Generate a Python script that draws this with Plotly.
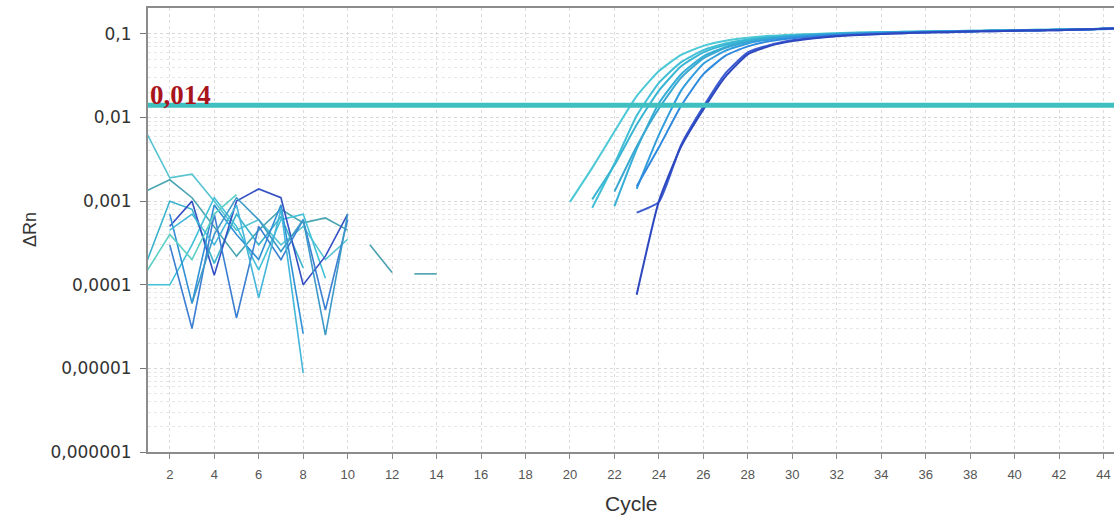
import math
import plotly.graph_objects as go

# ---- data -----------------------------------------------------------------
THRESHOLD = 0.014
THRESHOLD_LABEL = "0,014"

# background (pre-amplification) noise, cycles 1..14
noise_cycles = list(range(1, 15))
noise_1 = [0.0062, 0.0019, 0.0021, 0.001, 0.00045, 0.0006, 0.0003, 0.0005, 0.0002, 0.00035, None, None, None, None]
noise_2 = [0.00135, 0.0018, 0.0011, 0.0005, 0.00022, 0.00045, 0.0008, 0.00055, 0.00063, 0.00045, None, None, None, None]
noise_3 = [0.0002, 0.001, 0.0008, 0.00018, 0.0007, 0.0003, 0.00065, 0.00016, None, None, None, None, None, None]
noise_4 = [0.0001, 0.0001, 0.0003, 0.0011, 0.0005, 0.00015, 0.0006, 0.0007, 0.00012, None, None, None, None, None]
noise_5 = [None, 0.0005, 0.001, 0.00013, 0.001, 0.0014, 0.0011, 0.0001, 0.00022, 0.0007, None, None, None, None]
noise_6 = [None, 0.0007, 0.00006, 0.0009, 0.0004, 0.0002, 0.0009, 0.000026, None, None, None, None, None, None]
noise_7 = [None, 0.0003, 0.00003, 0.0007, 0.00004, 0.0005, 0.0002, 0.0006, 0.00005, 0.0006, None, None, None, None]
noise_8 = [0.00015, 0.0004, 0.0002, 0.0007, 0.0012, None, None, None, None, None, None, None, None, None]
noise_9 = [None, 0.00045, 0.0007, 0.0003, 0.0009, 0.00007, 0.0008, 0.0000088, None, None, None, None, None, None]
noise_10 = [None, None, 0.00006, 0.0004, 0.0011, 0.0006, 0.00025, 0.0006, 0.000025, 0.0007, None, None, None, None]
noise_11 = [None, None, None, None, None, None, None, None, None, None, 0.0003, 0.00014, None, None]
noise_12 = [None, None, None, None, None, None, None, None, None, None, None, None, 0.000135, 0.000135]

# amplification curves, cycles 20..45
amp_cycles = list(range(20, 46))
amp_a = [0.00098, 0.0025, 0.0068, 0.018, 0.036, 0.056, 0.072, 0.083, 0.09, 0.095, 0.098, 0.1, 0.102,
         0.104, 0.105, 0.106, 0.107, 0.108, 0.109, 0.11, 0.111, 0.112, 0.113, 0.114, 0.115, 0.116]
amp_b = [None, 0.00083, 0.0028, 0.0105, 0.026, 0.046, 0.064, 0.077, 0.086, 0.092, 0.096, 0.099, 0.101,
         0.103, 0.104, 0.106, 0.107, 0.108, 0.109, 0.11, 0.111, 0.112, 0.113, 0.114, 0.115, 0.116]
amp_c = [None, 0.00105, 0.0027, 0.0082, 0.021, 0.041, 0.06, 0.074, 0.084, 0.091, 0.095, 0.098, 0.1,
         0.102, 0.104, 0.105, 0.106, 0.107, 0.108, 0.109, 0.11, 0.111, 0.112, 0.114, 0.115, 0.117]
amp_d = [None, None, 0.00087, 0.0042, 0.0148, 0.033, 0.054, 0.07, 0.081, 0.089, 0.094, 0.097, 0.1,
         0.102, 0.103, 0.105, 0.106, 0.107, 0.108, 0.109, 0.11, 0.111, 0.112, 0.113, 0.115, 0.116]
amp_e = [None, None, 0.0013, 0.0045, 0.0128, 0.03, 0.051, 0.068, 0.08, 0.088, 0.093, 0.097, 0.1,
         0.102, 0.103, 0.105, 0.106, 0.107, 0.108, 0.109, 0.11, 0.111, 0.112, 0.113, 0.114, 0.116]
amp_f = [None, None, None, 0.0014, 0.0062, 0.021, 0.044, 0.063, 0.077, 0.086, 0.092, 0.096, 0.099,
         0.101, 0.103, 0.104, 0.105, 0.107, 0.108, 0.109, 0.11, 0.111, 0.112, 0.113, 0.115, 0.116]
amp_g = [None, None, None, 0.0015, 0.0044, 0.0138, 0.033, 0.055, 0.071, 0.082, 0.089, 0.094, 0.097,
         0.1, 0.102, 0.104, 0.105, 0.107, 0.108, 0.109, 0.11, 0.111, 0.112, 0.113, 0.115, 0.116]
amp_h = [None, None, None, 0.000076, 0.001, 0.0045, 0.0125, 0.031, 0.057, 0.072, 0.082, 0.089, 0.094,
         0.097, 0.1, 0.102, 0.104, 0.105, 0.107, 0.108, 0.109, 0.11, 0.111, 0.113, 0.115, 0.117]
amp_i = [None, None, None, 0.00073, 0.00098, 0.0047, 0.0135, 0.034, 0.06, 0.074, 0.084, 0.09, 0.095,
         0.098, 0.1, 0.102, 0.104, 0.105, 0.107, 0.108, 0.109, 0.11, 0.111, 0.113, 0.115, 0.117]

y_tick_values = [1e-6, 1e-5, 1e-4, 1e-3, 1e-2, 1e-1]
y_tick_labels = ["0,000001", "0,00001", "0,0001", "0,001", "0,01", "0,1"]
x_tick_values = list(range(2, 46, 2))

# ---- figure ---------------------------------------------------------------
fig = go.Figure()

noise_series = [
    (noise_1, "#58c4d2"), (noise_2, "#4aa5b2"), (noise_3, "#3ab3cc"), (noise_4, "#41c1d8"),
    (noise_5, "#3550c2"), (noise_6, "#2f90d6"), (noise_7, "#3c7fd2"), (noise_8, "#5dd0c4"),
    (noise_9, "#44b6da"), (noise_10, "#3d9ac8"), (noise_11, "#4aa0b0"), (noise_12, "#4aa0b0"),
]
for vals, col in noise_series:
    fig.add_trace(go.Scatter(x=noise_cycles, y=vals, mode="lines", connectgaps=False,
                             line=dict(color=col, width=1.6), hoverinfo="skip"))

amp_series = [
    (amp_a, "#4cc8d6"), (amp_b, "#40bfd6"), (amp_c, "#38b5d2"), (amp_d, "#35aed8"),
    (amp_e, "#3aa8d0"), (amp_f, "#329ddc"), (amp_g, "#2f8ade"), (amp_i, "#3a5ad0"), (amp_h, "#2d48bf"),
]
for vals, col in amp_series:
    fig.add_trace(go.Scatter(x=amp_cycles, y=vals, mode="lines", connectgaps=False,
                             line=dict(color=col, width=2, shape="spline", smoothing=0.5),
                             hoverinfo="skip"))

# threshold line
fig.add_trace(go.Scatter(x=[0, 46], y=[THRESHOLD, THRESHOLD], mode="lines",
                         line=dict(color="#3fbfc0", width=5), hoverinfo="skip"))

# annotations on a log axis take the exponent as their y position
fig.add_annotation(text=f"<b>{THRESHOLD_LABEL}</b>", xref="paper", yref="y",
                   x=0, y=math.log10(THRESHOLD), xanchor="left", yanchor="bottom", yshift=-7,
                   showarrow=False,
                   font=dict(family="Liberation Serif", size=27, color="#a8141c"))

minor_vals = [k * 10.0 ** e for e in range(-6, 0) for k in range(2, 10)] + [0.2]

fig.update_layout(
    width=1114, height=516,
    margin=dict(l=148, r=0, t=8, b=64),
    paper_bgcolor="white", plot_bgcolor="white",
    showlegend=False,
    font=dict(family="Liberation Sans", color="#333333"),
    xaxis=dict(
        range=[1.02, 44.47], tickvals=x_tick_values, ticks="outside", ticklen=5,
        tickcolor="#888888", tickfont=dict(family="Liberation Sans", size=13, color="#555555"),
        ticklabelstandoff=4,
        showline=True, linecolor="#8c8c8c", linewidth=2, mirror=True,
        showgrid=True, gridcolor="#dcdcdc", griddash="3px,3px", gridwidth=1,
        zeroline=False,
    ),
    yaxis=dict(
        type="log", range=[-6, -0.69], tickvals=y_tick_values, ticktext=y_tick_labels,
        ticks="outside", ticklen=6, tickcolor="#777777",
        tickfont=dict(family="DejaVu Sans", size=17, color="#333333"), ticklabelstandoff=5,
        showline=True, linecolor="#8c8c8c", linewidth=2,
        showgrid=True, gridcolor="#d8d8d8", griddash="3px,3px", gridwidth=1,
        minor=dict(tickvals=minor_vals, showgrid=True, gridcolor="#e6e6e6",
                   griddash="3px,3px", gridwidth=1, ticks=""),
        zeroline=False,
    ),
)

fig.add_annotation(text="Cycle", xref="paper", yref="paper", x=0.5, y=0,
                   yshift=-51, xanchor="center", yanchor="middle", showarrow=False,
                   font=dict(size=21, color="#333333"))
fig.add_annotation(text="ΔRn", xref="paper", yref="paper", x=0, y=0.5,
                   xshift=-118, xanchor="center", yanchor="middle", textangle=-90,
                   showarrow=False, font=dict(size=18, color="#333333"))

fig.write_html("out.html")
